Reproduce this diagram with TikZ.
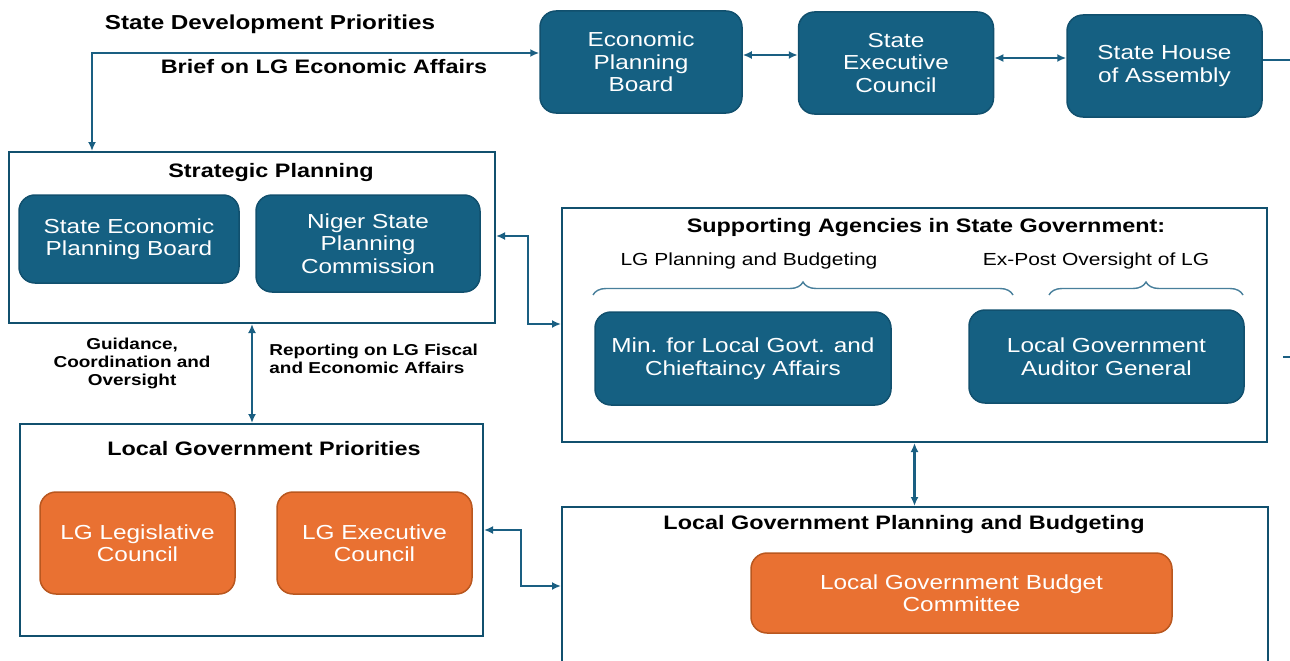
\documentclass[tikz,border=0pt]{standalone}
\usepackage{fontspec}
\setmainfont{Liberation Sans}[FakeStretch=1.2]
\usetikzlibrary{arrows.meta,positioning,decorations.pathreplacing}
\definecolor{govblue}{HTML}{156082}
\definecolor{govedge}{HTML}{11506E}
\definecolor{govline}{HTML}{1A5F82}
\definecolor{govorange}{HTML}{E97132}
\definecolor{govrim}{HTML}{B9571F}

\begin{document}
\begin{tikzpicture}[x=1pt,y=-1pt,>={Latex[length=9pt,width=8pt]},
	bluebox/.style={draw=govedge,line width=1.5pt,fill=govblue,rounded corners=16pt,text=white,align=center,inner sep=0pt,font=\fontsize{20.3}{22.5}\selectfont},
	orangebox/.style={bluebox,draw=govrim,fill=govorange},
	panel/.style={draw=govedge,line width=2pt,inner sep=0pt},
	head/.style={font=\fontsize{19.5}{22}\selectfont\bfseries},
	note/.style={font=\fontsize{15.8}{18}\selectfont\bfseries},
	sub/.style={font=\fontsize{17.5}{20}\selectfont},
	link/.style={<->,draw=govline,line width=2.2pt},
	curly/.style={decorate,decoration={brace,amplitude=13pt},draw=govline!80,line width=1.4pt}]
	\useasboundingbox (0,0) rectangle (1290,661);
	\clip (0,0) rectangle (1290,661);

	% state level
	\node[bluebox,minimum width=202pt,minimum height=102pt] (EPB) at (641,62) {Economic\\Planning\\Board};
	\node[bluebox,minimum width=195pt,minimum height=102pt,right=55pt of EPB,yshift=-1pt] (SEC) {State\\Executive\\Council};
	\node[bluebox,minimum width=195pt,minimum height=102pt,right=72pt of SEC,yshift=-3pt] (SHA) {State House\\of Assembly};
	\node[head,font=\fontsize{20.2}{22}\selectfont\bfseries] (SDP) at (270,24) {State Development Priorities};
	\node[head] (BLG) at (324,67) {Brief on LG Economic Affairs};

	% strategic planning
	\node[panel,minimum width=486pt,minimum height=171pt] (SP) at (252,237.5) {};
	\node[head] (SPhead) at (271,172) {Strategic Planning};
	\node[bluebox,minimum width=220pt,minimum height=88pt] (SEPB) at (129,239) {State Economic\\Planning Board};
	\node[bluebox,minimum width=224pt,minimum height=97pt] (NSPC) at (368,243.5) {Niger State\\Planning\\Commission};

	% supporting agencies
	\node[panel,minimum width=705pt,minimum height=234pt] (SA) at (914.5,325) {};
	\node[head] (SAhead) at (926,227) {Supporting Agencies in State Government:};
	\node[sub] (PBtxt) at (749,261) {LG Planning and Budgeting};
	\node[sub] (EPtxt) at (1096,261) {Ex-Post Oversight of LG};
	\draw[curly] (593,295) -- (1013,295);
	\draw[curly] (1049,295) -- (1243,295);
	\node[bluebox,minimum width=296pt,minimum height=93pt] (MLG) at (743,358.5) {Min. for Local Govt. and\\Chieftaincy Affairs};
	\node[bluebox,minimum width=275pt,minimum height=93pt] (LGAG) at (1106.5,356.5) {Local Government\\Auditor General};

	% local government
	\node[panel,minimum width=463pt,minimum height=212pt] (LGP) at (251.5,530) {};
	\node[head] (LGPhead) at (264,449) {Local Government Priorities};
	\node[orangebox,minimum width=195pt,minimum height=102pt] (LGLC) at (137.5,543) {LG Legislative\\Council};
	\node[orangebox,minimum width=195pt,minimum height=102pt] (LGEC) at (374.5,543) {LG Executive\\Council};

	\node[panel,minimum width=706pt,minimum height=193pt] (LGPB) at (915,603.5) {};
	\node[head] (LGPBhead) at (904,524) {Local Government Planning and Budgeting};
	\node[orangebox,minimum width=421pt,minimum height=80pt] (LGBC) at (961.5,593) {Local Government Budget\\Committee};

	% connectors
	\coordinate (brief) at (92,53);
	\coordinate (jogA) at (528,236);
	\coordinate (jogB) at (521,530);
	\coordinate (offA) at (1292,60);
	\coordinate (offB) at (1283,357);
	\coordinate (offC) at (1292,357);
	\draw[link] (SP.north -| brief) -- (brief) -- (brief -| EPB.west);
	\draw[link] (EPB.east |- 0,55) -- (SEC.west |- 0,55);
	\draw[link] (SEC.east |- 0,58) -- (SHA.west |- 0,58);
	\draw[govline,line width=1.4pt] (SHA.east |- offA) -- (offA);
	\draw[govline,line width=1.4pt] (offB) -- (offC);
	\draw[link] (jogA -| SP.east) -- (jogA) |- (SA.west |- 0,324);
	\draw[link] (SP.south) -- (SP.south |- LGP.north)
		node[note,pos=0.4,left=37pt,align=center] (GCO) {Guidance,\\Coordination and\\Oversight}
		node[note,pos=0.35,right=13pt,align=left] (RLG) {Reporting on LG Fiscal\\and Economic Affairs};
	\draw[link] (SA.south) -- (SA.south |- LGPB.north);
	\draw[link] (jogB -| LGP.east) -- (jogB) |- (LGPB.west |- 0,586);
\end{tikzpicture}
\end{document}
